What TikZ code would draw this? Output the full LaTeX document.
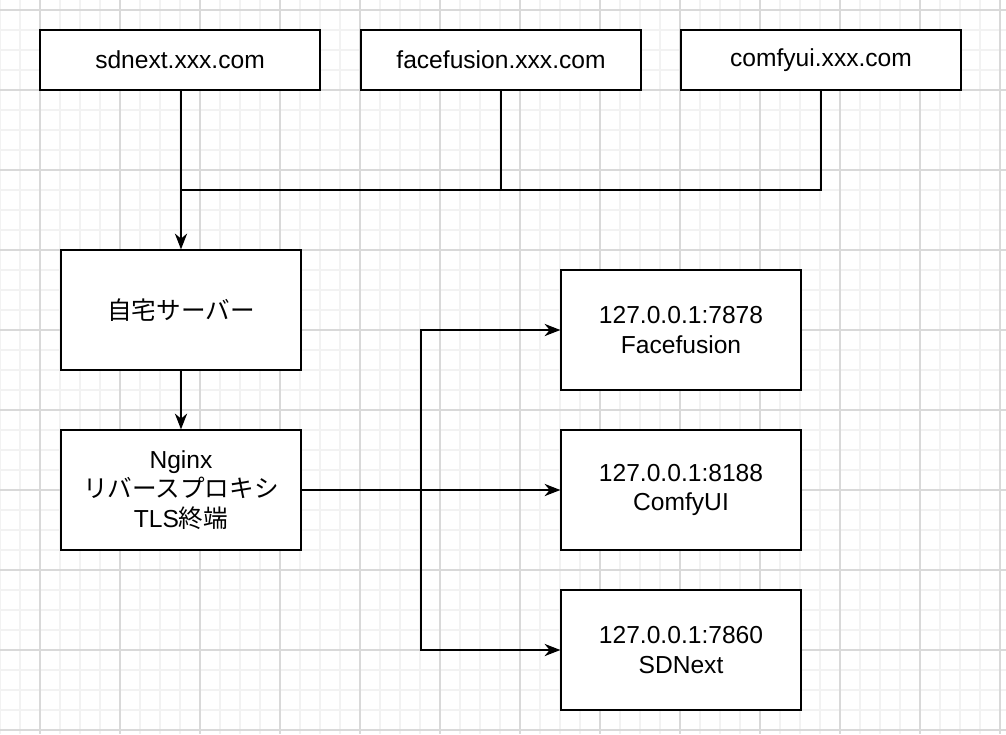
\documentclass[tikz,border=0pt]{standalone}
\usepackage{fontspec}
\setmainfont{Liberation Sans}
\newfontfamily\cjk{Noto Sans CJK JP}
\usetikzlibrary{arrows.meta, positioning}
\tikzset{
    box/.style={draw, thick, fill=white, align=center, inner sep=0pt, font=\fontsize{14}{17}\selectfont},
    link/.style={thick, -{Stealth[length=9pt, width=7pt]}},
    line/.style={thick}
}

\begin{document}
\begin{tikzpicture}[x=0.02cm, y=-0.02cm]
    % Background grid
    \useasboundingbox (0,0) rectangle (1006,734);
    \fill[white] (0,0) rectangle (1006,734);
    \foreach \x in {0,20,...,1000} \draw[black!5, line width=0.6pt] (\x,0) -- (\x,734);
    \foreach \y in {10,30,...,730} \draw[black!5, line width=0.6pt] (0,\y) -- (1006,\y);
    \foreach \x in {40,120,...,1000} \draw[black!15, line width=0.6pt] (\x,0) -- (\x,734);
    \foreach \y in {10,90,...,730} \draw[black!15, line width=0.6pt] (0,\y) -- (1006,\y);

    % Domains
    \node[box, minimum width=5.6cm, minimum height=1.2cm] (sdnext) at (180,60) {sdnext.xxx.com};
    \node[box, minimum width=5.6cm, minimum height=1.2cm] (facefusion) at (501,60) {facefusion.xxx.com};
    \node[box, minimum width=5.6cm, minimum height=1.2cm] (comfyui) at (821,60) {comfyui.xxx.com};

    % Home server
    \node[box, minimum width=4.8cm, minimum height=2.4cm] (server) at (181,310) {{\cjk 自宅サーバー}};
    \node[box, minimum width=4.8cm, minimum height=2.4cm] (nginx) at (181,490) {Nginx\\{\cjk リバースプロキシ}\\TLS{\cjk 終端}};

    % Local services
    \node[box, minimum width=4.8cm, minimum height=2.4cm] (ff) at (681,330) {127.0.0.1:7878\\Facefusion};
    \node[box, minimum width=4.8cm, minimum height=2.4cm] (cu) at (681,490) {127.0.0.1:8188\\ComfyUI};
    \node[box, minimum width=4.8cm, minimum height=2.4cm] (sd) at (681,650) {127.0.0.1:7860\\SDNext};

    % Joins
    \coordinate (j1) at (181,190);
    \coordinate (j2) at (501,190);
    \coordinate (split) at (421,490);

    % Connectors
    \draw[link] (sdnext.south -| j1) -- (server.north);
    \draw[line] (facefusion.south) -- (j2) -- (j1);
    \draw[line] (comfyui.south) |- (j2);
    \draw[link] (server) -- (nginx);
    \draw[link] (nginx) -- (cu);
    \draw[link] (split) |- (ff.west);
    \draw[link] (split) |- (sd.west);
\end{tikzpicture}
\end{document}
